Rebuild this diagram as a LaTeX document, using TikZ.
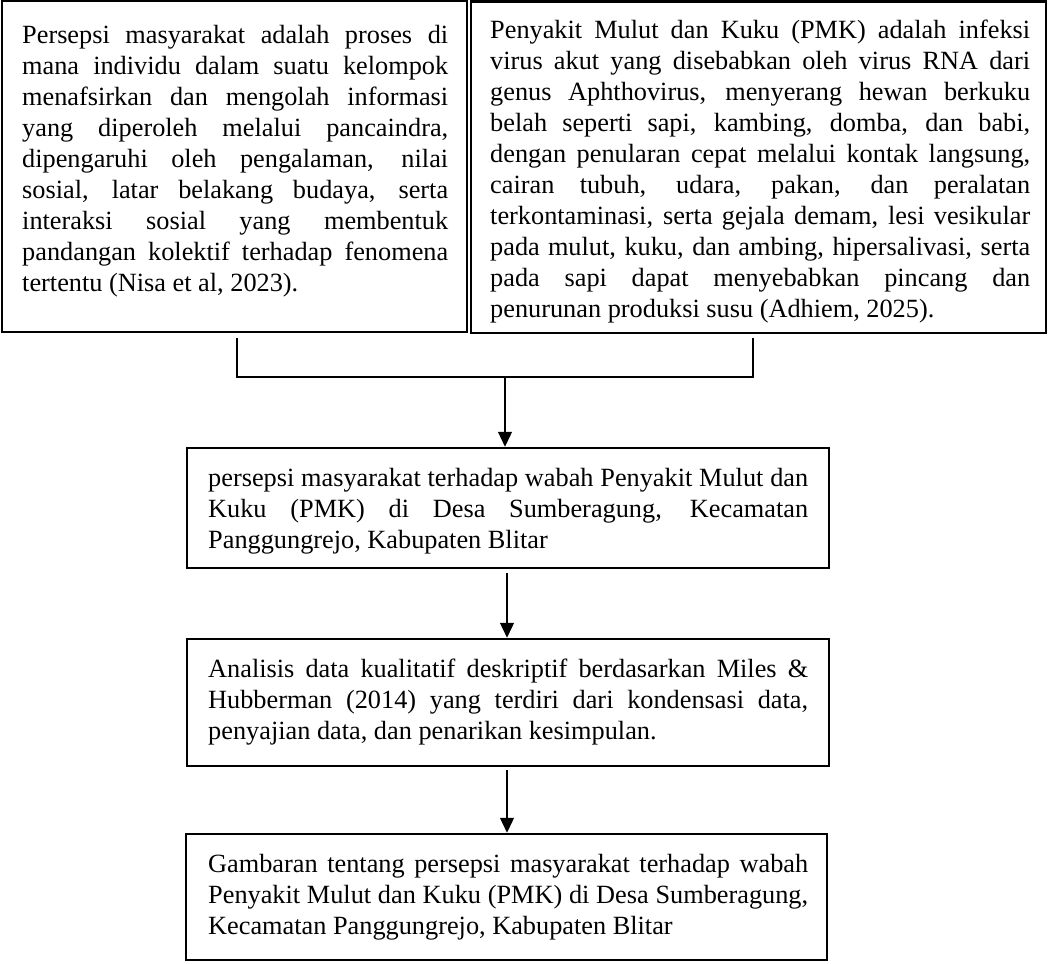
\documentclass[tikz,border=0pt]{standalone}
\usepackage{fontspec}
\setmainfont{Liberation Serif}
\usetikzlibrary{arrows.meta,fit}
\newcommand{\prepjust}{\tolerance=10000 \hyphenpenalty=10000 \exhyphenpenalty=10000 \rule{0pt}{21pt}\ignorespaces}
\begin{document}
\begin{tikzpicture}[x=1pt,y=-1pt,
  box/.style={draw, line width=2.5pt, inner sep=0pt},
  txt/.style={anchor=north west, inner sep=0pt, align=justify, font=\fontsize{26.3}{31}\selectfont},
  conn/.style={line width=1.3pt},
  arr/.style={line width=1.3pt, -{Triangle[length=15pt,width=14pt]}}]
\useasboundingbox (0,0) rectangle (1048,963);

% top boxes
\node[box, line width=2pt, fit={(1.5,1.5) (467,332)}] (b1) {};
\node[box, fit={(471,1.5) (1046,333)}] (b2) {};
\node[txt, text width=426pt] (t1) at (22,22) {\prepjust Persepsi masyarakat adalah proses di\linebreak
mana individu dalam suatu kelompok\linebreak
menafsirkan dan mengolah informasi\linebreak
yang diperoleh melalui pancaindra,\linebreak
dipengaruhi oleh pengalaman, nilai\linebreak
sosial, latar belakang budaya, serta\linebreak
interaksi sosial yang membentuk\linebreak
pandangan kolektif terhadap fenomena\linebreak
tertentu (Nisa et al, 2023).};
\node[txt, text width=540pt] (t2) at (490,17) {\prepjust Penyakit Mulut dan Kuku (PMK) adalah infeksi\linebreak
virus akut yang disebabkan oleh virus RNA dari\linebreak
genus Aphthovirus, menyerang hewan berkuku\linebreak
belah seperti sapi, kambing, domba, dan babi,\linebreak
dengan penularan cepat melalui kontak langsung,\linebreak
cairan tubuh, udara, pakan, dan peralatan\linebreak
terkontaminasi, serta gejala demam, lesi vesikular\linebreak
pada mulut, kuku, dan ambing, hipersalivasi, serta\linebreak
pada sapi dapat menyebabkan pincang dan\linebreak
penurunan produksi susu (Adhiem, 2025).};

% lower boxes
\node[box, fit={(187,448) (829,568)}] (b3) {};
\node[box, fit={(187,639) (829,766)}] (b4) {};
\node[box, fit={(186,834) (827,960)}] (b5) {};
\node[txt, text width=600pt] (t3) at (208,465) {\prepjust persepsi masyarakat terhadap wabah Penyakit Mulut dan\linebreak
Kuku (PMK) di Desa Sumberagung, Kecamatan\linebreak
Panggungrejo, Kabupaten Blitar};
\node[txt, text width=600pt] (t4) at (208,656) {\prepjust Analisis data kualitatif deskriptif berdasarkan Miles \&\linebreak
Hubberman (2014) yang terdiri dari kondensasi data,\linebreak
penyajian data, dan penarikan kesimpulan.};
\node[txt, text width=600pt] (t5) at (208,851) {\prepjust Gambaran tentang persepsi masyarakat terhadap wabah\linebreak
Penyakit Mulut dan Kuku (PMK) di Desa Sumberagung,\linebreak
Kecamatan Panggungrejo, Kabupaten Blitar};

% connectors
\coordinate (l1) at (237,338);
\coordinate (r1) at (753,338);
\coordinate (j) at (505,377);
\draw[conn] (l1) |- (j) -| (r1);
\draw[arr] (j) -- (j |- b3.north);
\draw[arr, shorten <=4pt] (b3.south -| 507,0) -- (b4.north -| 507,0);
\draw[arr, shorten <=3pt] (b4.south -| 507,0) -- (b5.north -| 507,0);
\end{tikzpicture}
\end{document}
